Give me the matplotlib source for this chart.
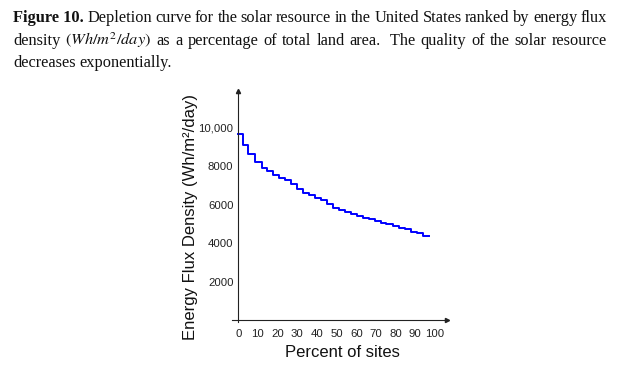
import matplotlib
matplotlib.use("Agg")
from matplotlib import pyplot as plt

# Depletion curve (step starts, last entry closes the final step)
pct_sites = [0, 2.2, 5.1, 8.5, 11.9, 14.7, 17.8, 20.8, 23.7, 26.8, 29.6, 32.7,
             36.0, 38.9, 41.8, 44.9, 48.2, 51.3, 54.2, 57.5, 60.1, 63.5, 66.5,
             69.4, 72.8, 75.3, 78.7, 81.7, 84.6, 88.0, 90.9, 93.9, 96.8]
flux = [9690, 9080, 8650, 8215, 7920, 7750, 7540, 7400, 7280, 7055, 6830, 6620,
        6480, 6360, 6220, 6050, 5845, 5720, 5615, 5530, 5410, 5305, 5235,
        5150, 5065, 4975, 4890, 4805, 4720, 4600, 4510, 4370, 4370]

x_ticks = [0, 10, 20, 30, 40, 50, 60, 70, 80, 90, 100]
y_ticks = [2000, 4000, 6000, 8000, 10000]
y_tick_labels = ["2000", "4000", "6000", "8000", "10,000"]

caption_lines = [
    ([("Figure 10.", "bold"), ("Depletion", "normal"), ("curve", "normal"), ("for", "normal"),
      ("the", "normal"), ("solar", "normal"), ("resource", "normal"), ("in", "normal"),
      ("the", "normal"), ("United", "normal"), ("States", "normal"), ("ranked", "normal"),
      ("by", "normal"), ("energy", "normal"), ("flux", "normal")], True),
    ([(w, "normal") for w in ["density", r"$(Wh/m^2/day)$", "as", "a", "percentage", "of",
                              "total", "land", "area.", " The", "quality", "of", "the",
                              "solar", "resource"]], True),
    ([(w, "normal") for w in ["decreases", "exponentially."]], False),
]

W, H = 624, 377
plt.rcParams["mathtext.fontset"] = "stix"
fig = plt.figure(figsize=(W / 100, H / 100), dpi=100)

# caption, justified by hand
renderer = fig.canvas.get_renderer()
left_px, right_px = 13, 607
baselines = [22.5, 45, 67]
for (words, justify), base in zip(caption_lines, baselines):
    texts = [fig.text(0, 1 - base / H, w, fontsize=11.8, weight=wt,
                      family="Liberation Serif", va="baseline", color="#111111")
             for w, wt in words]
    widths = [t.get_window_extent(renderer).width for t in texts]
    if justify:
        gap = (right_px - left_px - sum(widths)) / (len(texts) - 1)
    else:
        gap = 3.5
    x = left_px
    for t, w in zip(texts, widths):
        t.set_x(x / W)
        x += w + gap

# chart
ax = fig.add_axes([232 / W, 1 - 322 / H, 215 / W, 231 / H])
ax.plot(pct_sites, flux, drawstyle="steps-post", color="#0000ff", lw=1.4)

ax.set_xlim(-3.2, 106.1)
ax.set_ylim(-100, 11900)
for side in ["top", "right"]:
    ax.spines[side].set_visible(False)
ax.spines["left"].set_position(("data", 0))
ax.spines["bottom"].set_position(("data", 0))
for side in ["left", "bottom"]:
    ax.spines[side].set_linewidth(0.8)
    ax.spines[side].set_color("#222222")
ax.plot(1, 0, ">", color="#222222", ms=3, transform=ax.get_yaxis_transform(), clip_on=False)
ax.plot(0, 1, "^", color="#222222", ms=3, transform=ax.get_xaxis_transform(), clip_on=False)

ax.set_xticks(x_ticks)
ax.set_xticklabels([str(v) for v in x_ticks])
ax.set_yticks(y_ticks)
ax.set_yticklabels(y_tick_labels)
ax.tick_params(length=0, labelsize=8.2, labelcolor="#222222")
ax.tick_params(axis="x", pad=6.5)
ax.tick_params(axis="y", pad=3.5)
for lbl in ax.get_xticklabels() + ax.get_yticklabels():
    lbl.set_family("Liberation Sans")

ax.set_xlabel("Percent of sites", fontsize=12, family="Liberation Sans", color="#111111")
ax.set_ylabel("Energy Flux Density (Wh/m²/day)", fontsize=12, family="Liberation Sans",
              color="#111111")
ax.xaxis.set_label_coords(0.512, -0.1)
ax.yaxis.set_label_coords(-0.16, 0.455)

fig.savefig("out.png", dpi=100)
